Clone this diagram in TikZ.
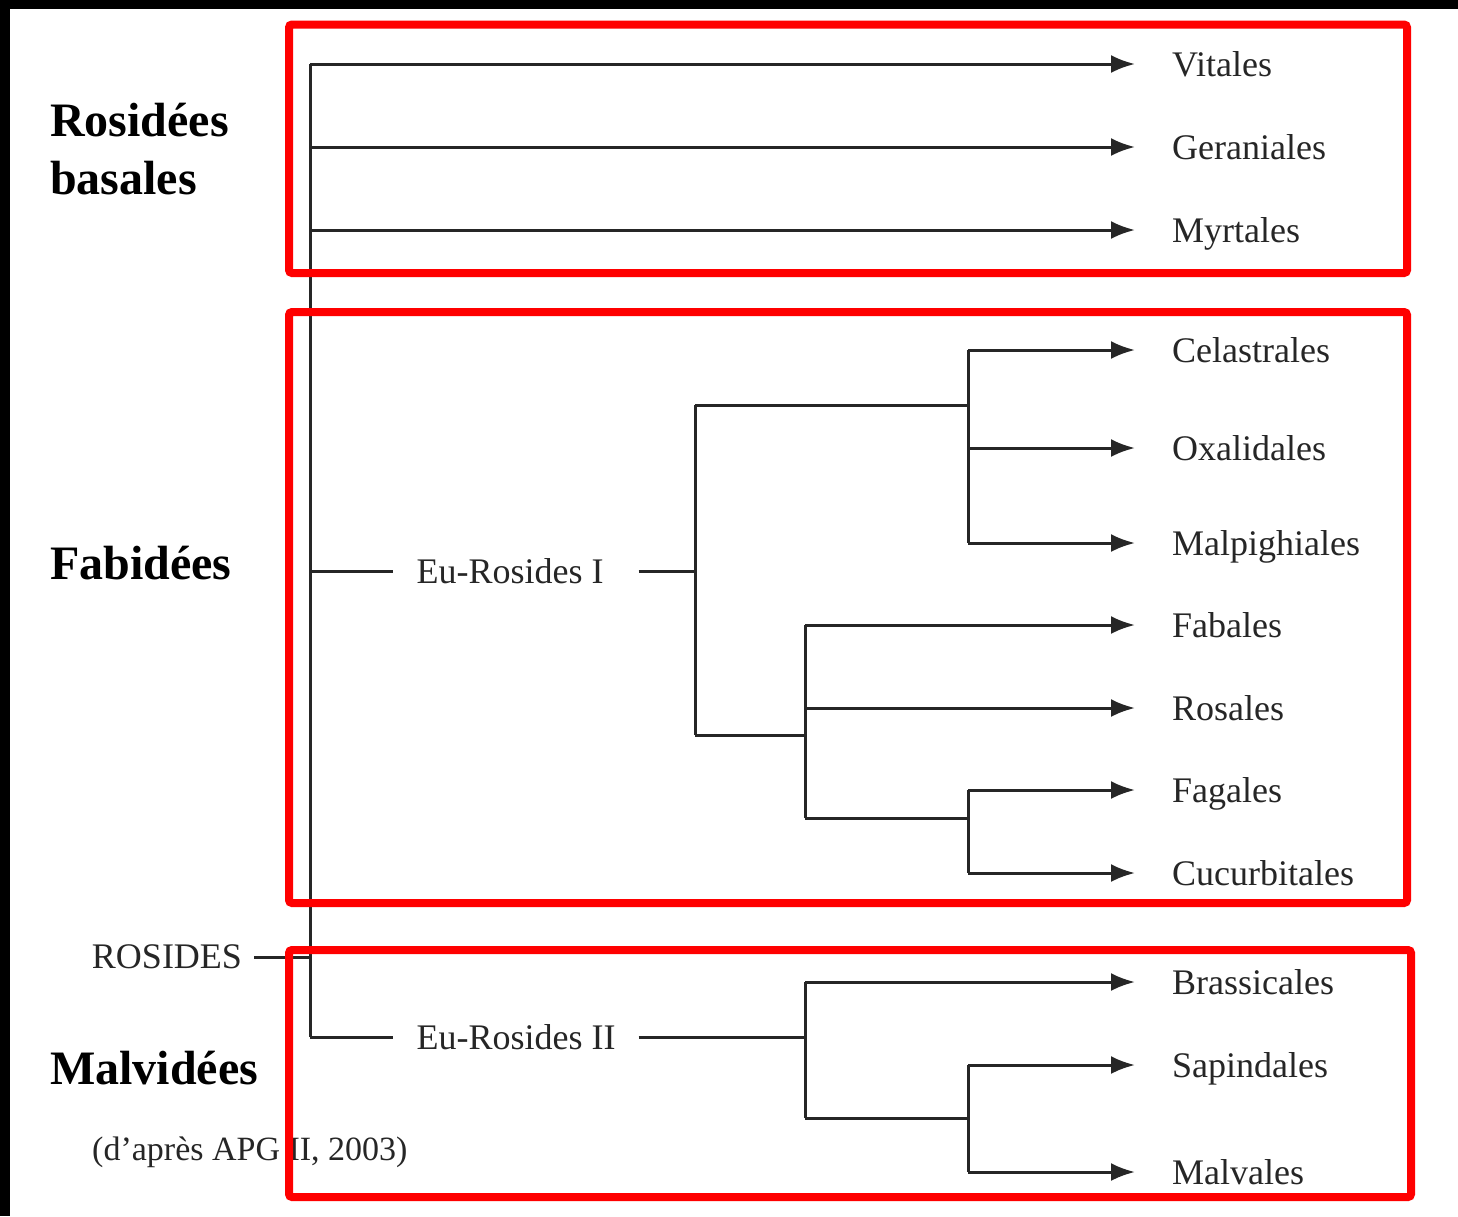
\documentclass[tikz,border=0pt]{standalone}
\usepackage{fontspec}
\setmainfont{Liberation Serif}
\usetikzlibrary{arrows.meta}
\begin{document}
\begin{tikzpicture}[x=1pt,y=-1pt,
  br/.style={draw=black!85,line width=3pt},
  arr/.style={br,-{Latex[length=24pt,width=18pt]}},
  leaf/.style={anchor=west,inner xsep=0pt,inner ysep=0pt,text height=24pt,text depth=0pt,
    font=\fontsize{36}{40}\selectfont,text=black!85},
  clade/.style={inner xsep=23pt,inner ysep=0pt,font=\fontsize{36}{40}\selectfont,text=black!85},
  group/.style={anchor=north west,align=left,inner sep=0pt,font=\fontsize{48}{58}\selectfont\bfseries},
  redbox/.style={draw=red,line width=8pt,rounded corners=3pt}]
\useasboundingbox (0,0) rectangle (1458,1216);
\fill[white] (0,0) rectangle (1458,1216);
\fill[black] (0,0) rectangle (1458,9);
\fill[black] (0,0) rectangle (10,1216);

% group labels
\node[group] (gbas) at (50,103) {Rosidées\\basales};
\node[group] (gfab) at (50,546) {Fabidées};
\node[group] (gmal) at (50,1051) {Malvidées};
\node[anchor=base west,inner sep=0pt,font=\fontsize{34}{40}\selectfont,text=black!85] (src) at (92,1160) {(d’après APG II, 2003)};

% leaves
\node[leaf] (vit) at (1172,64) {Vitales};
\node[leaf] (ger) at (1172,147) {Geraniales};
\node[leaf] (myr) at (1172,230) {Myrtales};
\node[leaf] (cel) at (1172,350) {Celastrales};
\node[leaf] (oxa) at (1172,448) {Oxalidales};
\node[leaf] (mal) at (1172,543) {Malpighiales};
\node[leaf] (fab) at (1172,625) {Fabales};
\node[leaf] (ros) at (1172,708) {Rosales};
\node[leaf] (fag) at (1172,790) {Fagales};
\node[leaf] (cuc) at (1172,873) {Cucurbitales};
\node[leaf] (bra) at (1172,982) {Brassicales};
\node[leaf] (sap) at (1172,1065) {Sapindales};
\node[leaf] (mlv) at (1172,1172) {Malvales};

% clade labels
\node[clade] (eu1) at (510,571) {Eu-Rosides I};
\node[clade] (eu2) at (516,1037) {Eu-Rosides II};
\node[clade,inner xsep=12pt] (rosides) at (167,957) {ROSIDES};

% junctions
\coordinate (rtop) at (310,64);
\coordinate (rbot) at (310,1037);
\coordinate (j1) at (695,571);
\coordinate (j2) at (968,405);
\coordinate (j3) at (805,735);
\coordinate (j4) at (968,818);
\coordinate (j5) at (805,1037);
\coordinate (j6) at (968,1118);

% main trunk
\draw[br] (rtop) -- (rbot);
\draw[br] (rosides.east) -- (rtop |- rosides.east);
\draw[arr] (rtop) -- ([xshift=-37pt]vit.west);
\draw[arr] (rtop |- ger.west) -- ([xshift=-37pt]ger.west);
\draw[arr] (rtop |- myr.west) -- ([xshift=-37pt]myr.west);

% Eu-Rosides I
\draw[br] (rtop |- eu1.west) -- (eu1.west);
\draw[br] ([xshift=12pt]eu1.east) -- (j1);
\draw[br] (j1 |- j2) -- (j1 |- j3);
\draw[br] (j1 |- j2) -- (j2);
\draw[br] (j2 |- cel.west) -- (j2 |- mal.west);
\draw[arr] (j2 |- cel.west) -- ([xshift=-37pt]cel.west);
\draw[arr] (j2 |- oxa.west) -- ([xshift=-37pt]oxa.west);
\draw[arr] (j2 |- mal.west) -- ([xshift=-37pt]mal.west);
\draw[br] (j1 |- j3) -- (j3);
\draw[br] (j3 |- fab.west) -- (j3 |- j4);
\draw[arr] (j3 |- fab.west) -- ([xshift=-37pt]fab.west);
\draw[arr] (j3 |- ros.west) -- ([xshift=-37pt]ros.west);
\draw[br] (j3 |- j4) -- (j4);
\draw[br] (j4 |- fag.west) -- (j4 |- cuc.west);
\draw[arr] (j4 |- fag.west) -- ([xshift=-37pt]fag.west);
\draw[arr] (j4 |- cuc.west) -- ([xshift=-37pt]cuc.west);

% Eu-Rosides II
\draw[br] (rbot) -- (eu2.west);
\draw[br] (eu2.east) -- (j5);
\draw[br] (j5 |- bra.west) -- (j5 |- j6);
\draw[arr] (j5 |- bra.west) -- ([xshift=-37pt]bra.west);
\draw[br] (j5 |- j6) -- (j6);
\draw[br] (j6 |- sap.west) -- (j6 |- mlv.west);
\draw[arr] (j6 |- sap.west) -- ([xshift=-37pt]sap.west);
\draw[arr] (j6 |- mlv.west) -- ([xshift=-37pt]mlv.west);

% red boxes
\draw[redbox] (289,24.5) rectangle (1407,273);
\draw[redbox] (289,312) rectangle (1407,903);
\draw[redbox] (289,950) rectangle (1411,1197);
\end{tikzpicture}
\end{document}
